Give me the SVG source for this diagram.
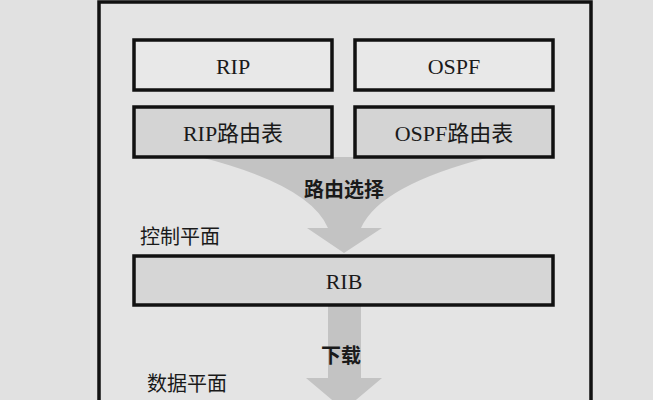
<svg xmlns="http://www.w3.org/2000/svg" width="653" height="400" viewBox="0 0 653 400">
<style>
.box{stroke:#111;stroke-width:3.5}
.t{font-family:"Liberation Serif","Noto Sans CJK SC",serif;font-size:22px;fill:#1a1a1a;text-anchor:middle}
.c{font-family:"Noto Sans CJK SC",sans-serif;font-size:20px;fill:#1a1a1a}
.b{font-family:"Noto Sans CJK SC",sans-serif;font-size:20px;font-weight:bold;fill:#1a1a1a;text-anchor:middle}
.arr{fill:#c3c3c3}
</style>
<rect width="653" height="400" fill="#e1e1e1"/>
<rect x="99" y="2" width="492" height="420" fill="#e4e4e4" stroke="#111" stroke-width="3.5"/>
<g id="connectors">
<path class="arr" d="M200 157 H490 Q380 185 361 228 H382 L344 253 L307 228 H328 Q310 185 200 157 Z"/>
<path class="arr" d="M328 305 H361 V378 H382 L344 410 L306 378 H328 Z"/>
</g>
<g id="rip"><rect class="box" x="134" y="40" width="198" height="50" fill="#e8e8e8"/><text class="t" x="233" y="74">RIP</text></g>
<g id="ospf"><rect class="box" x="355" y="40" width="198" height="50" fill="#e8e8e8"/><text class="t" x="454" y="74">OSPF</text></g>
<g id="riptable"><rect class="box" x="134" y="107" width="198" height="50" fill="#d4d4d4"/><text class="t" x="233" y="141">RIP路由表</text></g>
<g id="ospftable"><rect class="box" x="355" y="107" width="198" height="50" fill="#d4d4d4"/><text class="t" x="454" y="141">OSPF路由表</text></g>
<g id="rib"><rect class="box" x="134" y="256" width="419" height="49" fill="#d6d6d6"/><text class="t" x="344" y="289">RIB</text></g>
<text class="b" x="344" y="197">路由选择</text>
<text class="c" x="140" y="244">控制平面</text>
<text class="b" x="341" y="363">下载</text>
<text class="c" x="147" y="391">数据平面</text>
</svg>
